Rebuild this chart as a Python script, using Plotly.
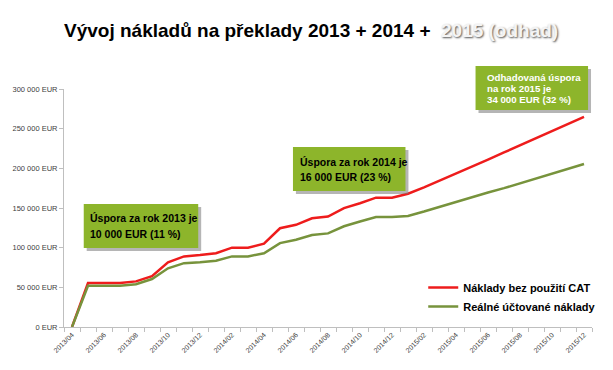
import plotly.graph_objects as go

months = ["2013/04", "2013/05", "2013/06", "2013/07", "2013/08", "2013/09", "2013/10", "2013/11", "2013/12",
          "2014/01", "2014/02", "2014/03", "2014/04", "2014/05", "2014/06", "2014/07", "2014/08", "2014/09",
          "2014/10", "2014/11", "2014/12", "2015/01", "2015/02", "2015/03", "2015/04", "2015/05", "2015/06",
          "2015/07", "2015/08", "2015/09", "2015/10", "2015/11", "2015/12"]

# values in EUR (thousands)
naklady_bez_cat = [0, 55.5, 55.5, 55.5, 57.5, 64, 81.5, 89, 90.7, 93, 100, 100, 105, 124.5, 128.8, 137, 139.3,
                   149.8, 156, 163, 163, 168, 176, 184.5, 193, 202, 211, 220, 229, 238, 247, 256, 265]
realne_naklady = [0, 52, 52, 52, 54, 60.5, 74, 80.5, 81.5, 83.5, 89, 89, 93, 105.8, 110, 116, 118, 127, 133,
                  138.5, 138.5, 140, 145.5, 151.5, 158, 163.5, 169.5, 175, 181, 187, 193, 199, 205.5]

y_ticks = [0, 50000, 100000, 150000, 200000, 250000, 300000]
y_tick_labels = ["0 EUR", "50 000 EUR", "100 000 EUR", "150 000 EUR", "200 000 EUR", "250 000 EUR", "300 000 EUR"]

series_names = ["Náklady bez použití CAT", "Reálné účtované náklady"]
box_texts = [
    ["Úspora za rok 2013 je", "10 000 EUR (11 %)"],
    ["Úspora za rok 2014 je", "16 000 EUR (23 %)"],
    ["Odhadovaná úspora", "na rok 2015 je", "34 000 EUR (32 %)"],
]
title_main = "Vývoj nákladů na překlady 2013 + 2014 +"
title_est = "2015 (odhad)"

W, H = 613, 370
L, R, T, B = 62, 597, 89, 327
FONT = "Liberation Sans, Arial, sans-serif"

def px(x):
    return (x - L) / (R - L)

def py(y):
    return (B - y) / (B - T)

xs = list(range(len(months)))
fig = go.Figure()
fig.add_trace(go.Scatter(x=xs, y=[v * 1000 for v in naklady_bez_cat], mode="lines",
                         name="<b>" + series_names[0] + "</b>", line=dict(color="#EE1C1C", width=2.5)))
fig.add_trace(go.Scatter(x=xs, y=[v * 1000 for v in realne_naklady], mode="lines",
                         name="<b>" + series_names[1] + "</b>", line=dict(color="#77933C", width=2.5)))

shapes = []
annotations = []
boxes = [(82, 204, 198, 248), (294, 147, 408, 191), (479, 66, 593, 110)]
for (x0, y0, x1, y1) in boxes:
    shapes.append(dict(type="rect", xref="paper", yref="paper", x0=px(x0 + 3), x1=px(x1 + 3), y0=py(y0 + 3), y1=py(y1 + 3),
                       fillcolor="rgba(120,120,120,0.55)", line=dict(width=0), layer="above"))
    shapes.append(dict(type="rect", xref="paper", yref="paper", x0=px(x0), x1=px(x1), y0=py(y0), y1=py(y1),
                       fillcolor="#8DB52B", line=dict(width=0), layer="above"))

line_pos = [[(86, 217.5), (86, 233.5)], [(299, 161.5), (299, 176.5)], [(489, 77.3), (489, 88.3), (489, 99.3)]]
for i, texts in enumerate(box_texts):
    color = "#FFFFFF" if i == 2 else "#000000"
    size = 9.7 if i == 2 else 10.5
    for t, (x, y) in zip(texts, line_pos[i]):
        annotations.append(dict(text="<b>" + t + "</b>", xref="paper", yref="paper", x=px(x), y=py(y),
                                xanchor="left", yanchor="middle", showarrow=False,
                                font=dict(family=FONT, size=size, color=color)))

annotations.append(dict(text="<b>" + title_main + "</b>", xref="paper", yref="paper", x=px(436), y=py(30),
                        xanchor="right", yanchor="middle", showarrow=False,
                        font=dict(family=FONT, size=19, color="#000000")))
annotations.append(dict(text="<b>" + title_est + "</b>", xref="paper", yref="paper", x=px(442), y=py(30),
                        xanchor="left", yanchor="middle", showarrow=False,
                        font=dict(family=FONT, size=19, color="#F4F4F4", shadow="1px 1px 2px #555555")))

fig.update_layout(
    width=W, height=H,
    margin=dict(l=L, r=W - R, t=T, b=H - B, pad=0),
    paper_bgcolor="white", plot_bgcolor="white",
    showlegend=True,
    legend=dict(x=px(426), y=py(273), xanchor="left", yanchor="top", bgcolor="rgba(0,0,0,0)",
                font=dict(family=FONT, size=11, color="#000000"), tracegroupgap=0),
    shapes=shapes, annotations=annotations,
    xaxis=dict(range=[-0.5, len(months) - 0.5], tickmode="array", tickvals=xs[::2], ticktext=months[::2],
               tickangle=-45, ticks="", showgrid=False, zeroline=False, showline=True, linecolor="#BFBFBF",
               linewidth=1, tickfont=dict(family=FONT, size=7, color="#404040"),
               minor=dict(ticks="outside", tick0=-0.5, dtick=1, ticklen=4, tickcolor="#BFBFBF", showgrid=False)),
    yaxis=dict(range=[0, 300000], tickmode="array", tickvals=y_ticks, ticktext=y_tick_labels,
               ticks="outside", ticklen=4, tickcolor="#BFBFBF", showgrid=False, zeroline=False,
               showline=True, linecolor="#BFBFBF", linewidth=1,
               tickfont=dict(family=FONT, size=7.5, color="#404040")),
)
fig.write_html("out.html", config={"displayModeBar": False},
               post_script="document.body.style.margin='0px';")
